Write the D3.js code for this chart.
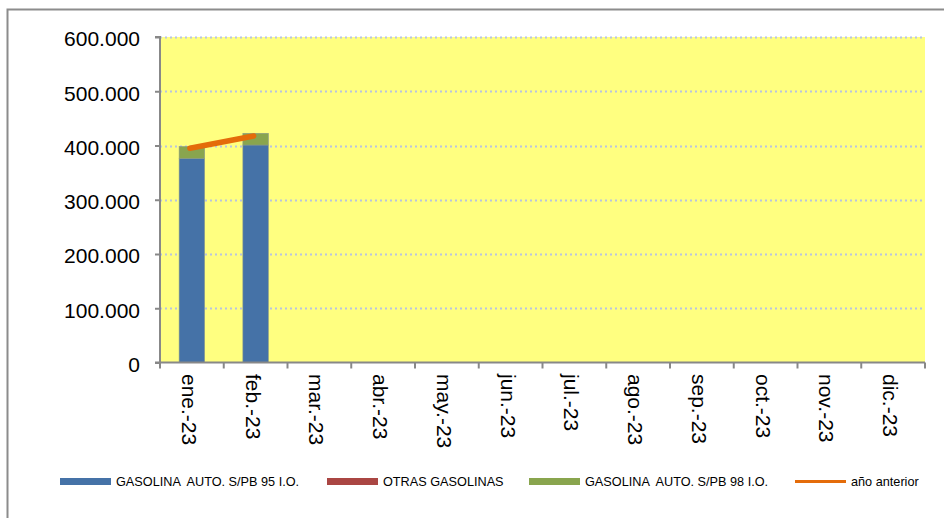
<!DOCTYPE html>
<html>
<head>
<meta charset="utf-8">
<script src="https://cdn.jsdelivr.net/npm/d3@7"></script>
<style>
  html, body { margin: 0; padding: 0; background: #fff; }
  svg { display: block; font-family: Arial, "Liberation Sans", sans-serif; }
</style>
</head>
<body>
<svg id="chart" width="944" height="518"></svg>
<script>
// Monthly gasoline consumption, 2023
const months = ["ene.-23", "feb.-23", "mar.-23", "abr.-23", "may.-23", "jun.-23",
                "jul.-23", "ago.-23", "sep.-23", "oct.-23", "nov.-23", "dic.-23"];
const gas95   = [376400, 400900, null, null, null, null, null, null, null, null, null, null];
const otras   = [0, 0, null, null, null, null, null, null, null, null, null, null];
const gas98   = [21700, 21600, null, null, null, null, null, null, null, null, null, null];
const prevYear = [394800, 417500, null, null, null, null, null, null, null, null, null, null];
const yTicks = [0, 100000, 200000, 300000, 400000, 500000, 600000];

const seriesNames = ["GASOLINA  AUTO. S/PB 95 I.O.", "OTRAS GASOLINAS", "GASOLINA  AUTO. S/PB 98 I.O.", "año anterior"];
const colors = ["#4572A7", "#AA4643", "#89A54E", "#E46C0A"];

const svg = d3.select("#chart");

// outer frame
svg.append("path")
  .attr("d", "M7.5,518 V9.5 H944")
  .attr("fill", "none").attr("stroke", "#8c8c8c").attr("stroke-width", 2);

const plot = { left: 160, right: 925, top: 37, bottom: 362.5 };

const x = d3.scaleBand().domain(months).range([plot.left, plot.right]).paddingInner(0).paddingOuter(0);
const y = d3.scaleLinear().domain([0, 600000]).range([plot.bottom, plot.top]);

// plot background
svg.append("rect")
  .attr("x", plot.left).attr("y", plot.top)
  .attr("width", plot.right - plot.left).attr("height", plot.bottom - plot.top)
  .attr("fill", "#FFFF80");

// gridlines
svg.append("g").selectAll("line").data(yTicks.filter(d => d > 0)).join("line")
  .attr("x1", plot.left).attr("x2", plot.right)
  .attr("y1", d => Math.round(y(d)) + 0.5).attr("y2", d => Math.round(y(d)) + 0.5)
  .attr("stroke", "#B8C4E0").attr("stroke-width", 2).attr("stroke-dasharray", "2,3");

// stacked bars
const rows = months.map((m, i) => ({ m, v: [gas95[i], otras[i], gas98[i]] }));
const barW = 25.5;
const barsG = svg.append("g");
rows.forEach(r => {
  if (r.v[0] == null) return;
  let acc = 0;
  r.v.forEach((val, k) => {
    if (!val) return;
    const y0 = y(acc), y1 = y(acc + val);
    barsG.append("rect")
      .attr("x", x(r.m) + x.bandwidth() / 2 - barW / 2)
      .attr("y", y1).attr("width", barW).attr("height", y0 - y1)
      .attr("fill", colors[k])
      .attr("stroke", "#8a9a8a").attr("stroke-width", 0.6);
    acc += val;
  });
});

// previous year line
const lineData = months.map((m, i) => ({ m, v: prevYear[i] })).filter(d => d.v != null);
svg.append("path")
  .datum(lineData)
  .attr("d", d3.line().x(d => x(d.m) + x.bandwidth() / 2 - 2).y(d => y(d.v)))
  .attr("fill", "none").attr("stroke", colors[3]).attr("stroke-width", 5.5)
  .attr("stroke-linecap", "round");

// y axis
const yAxis = svg.append("g").attr("transform", `translate(${plot.left},0)`)
  .call(d3.axisLeft(y).tickValues(yTicks).tickSize(5).tickPadding(15)
    .tickFormat(d => d3.format(",")(d).replace(/,/g, ".")));
yAxis.select(".domain").attr("stroke", "#888").attr("stroke-width", 2).attr("d", `M-5,${plot.top}H0V${plot.bottom}`);
yAxis.selectAll(".tick line").attr("stroke", "#888").attr("stroke-width", 2);
yAxis.selectAll(".tick text").attr("font-size", 21).attr("fill", "#000").attr("dy", "0.42em");

// x axis
const xAxisG = svg.append("g").attr("transform", `translate(0,${plot.bottom})`);
xAxisG.append("line").attr("x1", plot.left - 5).attr("x2", plot.right)
  .attr("stroke", "#888").attr("stroke-width", 2);
const bounds = d3.range(months.length + 1).map(i => plot.left + i * x.step());
xAxisG.selectAll("line.tk").data(bounds).join("line").attr("class", "tk")
  .attr("x1", d => d).attr("x2", d => d).attr("y1", 0).attr("y2", 6)
  .attr("stroke", "#888").attr("stroke-width", 2);
xAxisG.selectAll("text").data(months).join("text")
  .attr("transform", d => `translate(${x(d) + x.bandwidth() / 2 - 10},11.5) rotate(90)`)
  .attr("text-anchor", "start")
  .attr("font-size", 21).attr("fill", "#000")
  .text(d => d);

// legend
const legendItems = [
  { name: seriesNames[0], c: colors[0], x: 60, type: "rect" },
  { name: seriesNames[1], c: colors[1], x: 327, type: "rect" },
  { name: seriesNames[2], c: colors[2], x: 529, type: "rect" },
  { name: seriesNames[3], c: colors[3], x: 795, type: "line" }
];
const lg = svg.append("g");
legendItems.forEach(it => {
  if (it.type === "rect") {
    lg.append("rect").attr("x", it.x).attr("y", 478).attr("width", 51).attr("height", 7).attr("fill", it.c);
  } else {
    lg.append("line").attr("x1", it.x).attr("x2", it.x + 51).attr("y1", 481.5).attr("y2", 481.5)
      .attr("stroke", it.c).attr("stroke-width", 3);
  }
  lg.append("text").attr("x", it.x + 56).attr("y", 482).attr("dy", "0.35em")
    .attr("font-size", 12.7).attr("fill", "#000")
    .style("white-space", "pre")
    .text(it.name);
});
</script>
</body>
</html>
